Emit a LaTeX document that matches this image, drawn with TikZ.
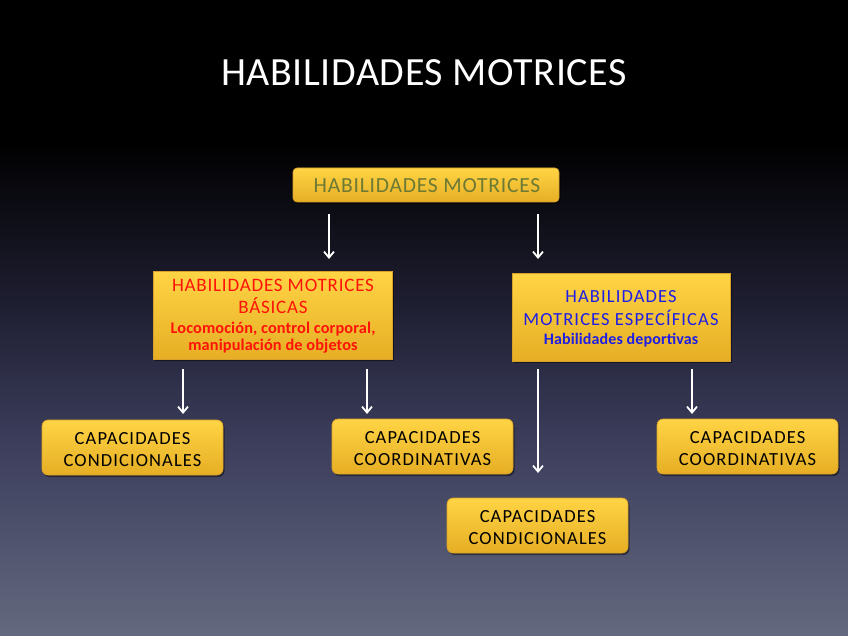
\documentclass[tikz,border=0pt]{standalone}
\usepackage{fontspec}
\setmainfont{Carlito}
\newfontfamily\titlefont{Carlito}[LetterSpace=1.5]
\newfontfamily\topfont{Carlito}[LetterSpace=3.7]
\newfontfamily\capsfont{Carlito}[LetterSpace=6]
\newfontfamily\redfont{Carlito}[LetterSpace=4.2]
\newfontfamily\bluefont{Carlito}[LetterSpace=6]
\newfontfamily\subfont{Carlito}[LetterSpace=0.8]
\usetikzlibrary{arrows.meta,shadows}
\definecolor{boxtop}{HTML}{FFD445}
\definecolor{boxbot}{HTML}{E6AE24}
\definecolor{boxline}{HTML}{D8A22A}
\definecolor{olivetxt}{HTML}{6C7A34}
\definecolor{redtxt}{HTML}{FF1208}
\definecolor{bluetxt}{HTML}{1E1EE6}
\definecolor{bgA}{HTML}{000000}
\definecolor{bgB}{HTML}{1C1C2E}
\definecolor{bgC}{HTML}{3C3E5C}
\definecolor{bgD}{HTML}{64697F}
\pgfdeclareverticalshading{slidebg}{100bp}{color(0bp)=(bgD); color(25bp)=(bgD); color(40bp)=(bgC); color(52bp)=(bgB); color(64bp)=(bgA); color(100bp)=(bgA)}
\tikzset{
  ybox/.style={draw=boxline, line width=0.6pt, top color=boxtop, bottom color=boxbot,
    align=center, inner sep=0pt,
    drop shadow={shadow xshift=1.5pt, shadow yshift=-2pt, opacity=0.45, fill=black}},
  rbox/.style={ybox, rounded corners=6pt},
  sbox/.style={ybox, rounded corners=0pt},
  capbox/.style={rbox, minimum width=181pt, minimum height=55pt,
    font=\capsfont\fontsize{18.5}{21.5}\selectfont, text=black,
    text height=37.5pt, text depth=0pt},
  redline/.style={anchor=base, inner sep=0pt, text=redtxt},
  blueline/.style={anchor=base, inner sep=0pt, text=bluetxt},
  warrow/.style={draw=white, line width=1.8pt, -{Straight Barb[length=6pt,width=10pt,line width=1.8pt]}}
}
\begin{document}
\begin{tikzpicture}[x=1pt,y=-1pt]
\shade[shading=slidebg] (0,0) rectangle (848,636);
\useasboundingbox (0,0) rectangle (848,636);

\node[anchor=base, text=white, font=\titlefont\fontsize{40}{44}\selectfont] (title) at (424,86) {HABILIDADES MOTRICES};

\node[rbox, minimum width=266pt, minimum height=34pt, rounded corners=4pt] (top) at (426,185) {};
\node[anchor=base, inner sep=0pt, text=olivetxt, font=\topfont\fontsize{21.5}{24}\selectfont] (toptxt) at (427,193) {HABILIDADES MOTRICES};

\node[sbox, minimum width=239pt, minimum height=88pt] (bas) at (272.5,315) {};
\node[redline, font=\redfont\fontsize{19}{22}\selectfont] (bas1) at (273,291) {HABILIDADES MOTRICES};
\node[redline, font=\redfont\fontsize{19}{22}\selectfont] (bas2) at (273,313) {BÁSICAS};
\node[redline, font=\subfont\bfseries\fontsize{16.3}{18}\selectfont] (bas3) at (273,333.5) {Locomoción, control corporal,};
\node[redline, font=\subfont\bfseries\fontsize{16.3}{18}\selectfont] (bas4) at (273,350) {manipulación de objetos};

\node[sbox, minimum width=218pt, minimum height=88pt] (esp) at (621,317) {};
\node[blueline, font=\bluefont\fontsize{18.5}{22}\selectfont] (esp1) at (621,302.7) {HABILIDADES};
\node[blueline, font=\bluefont\fontsize{18.5}{22}\selectfont] (esp2) at (621,325) {MOTRICES ESPECÍFICAS};
\node[blueline, font=\subfont\bfseries\fontsize{16}{18}\selectfont] (esp3) at (621,344) {Habilidades deportivas};

\node[capbox] (c1) at (132.5,447.5) {CAPACIDADES\\CONDICIONALES};
\node[capbox] (c2) at (422.5,446.5) {CAPACIDADES\\COORDINATIVAS};
\node[capbox] (c3) at (747.5,446.5) {CAPACIDADES\\COORDINATIVAS};
\node[capbox] (c4) at (537.5,525.5) {CAPACIDADES\\CONDICIONALES};

\coordinate (a1s) at (329,214); \coordinate (a1e) at (329,259);
\coordinate (a2s) at (538,214); \coordinate (a2e) at (538,259);
\coordinate (a3s) at (183,369); \coordinate (a3e) at (183,414);
\coordinate (a4s) at (367,369); \coordinate (a4e) at (367,414);
\coordinate (a5s) at (538,369); \coordinate (a5e) at (538,473);
\coordinate (a6s) at (692,369); \coordinate (a6e) at (692,414);

\draw[warrow] (a1s) -- (a1e);
\draw[warrow] (a2s) -- (a2e);
\draw[warrow] (a3s) -- (a3e);
\draw[warrow] (a4s) -- (a4e);
\draw[warrow] (a5s) -- (a5e);
\draw[warrow] (a6s) -- (a6e);
\end{tikzpicture}
\end{document}
